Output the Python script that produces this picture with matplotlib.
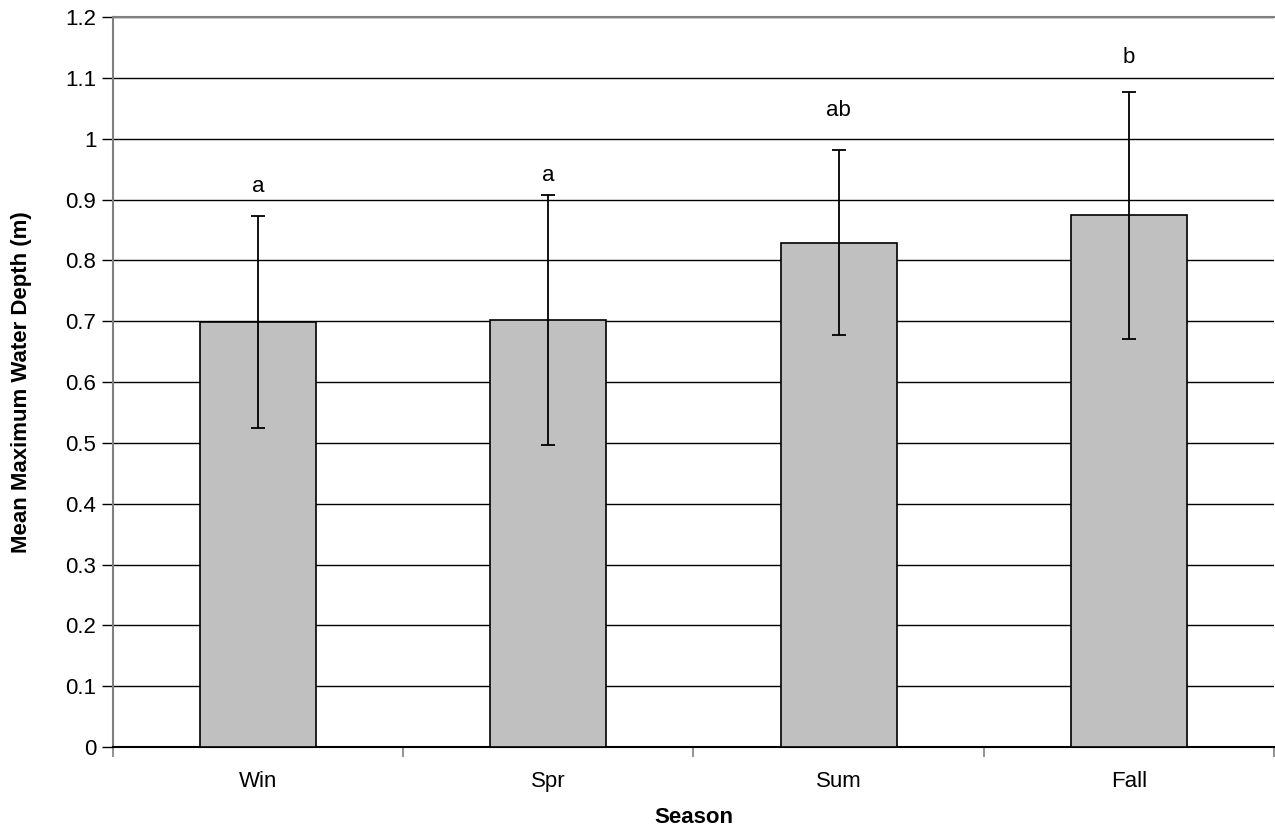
import matplotlib
matplotlib.use('Agg')
import matplotlib.pyplot as plt
import numpy as np

plt.rcParams['font.family'] = ['Liberation Sans', 'DejaVu Sans']

# Data
seasons = ['Win', 'Spr', 'Sum', 'Fall']
mean_depth = [0.699, 0.702, 0.829, 0.874]
err_depth = [0.174, 0.205, 0.152, 0.203]
letters = ['a', 'a', 'ab', 'b']
letter_y = [0.921, 0.940, 1.047, 1.133]

fig = plt.figure(figsize=(12.75, 8.35), dpi=100)
ax = fig.add_axes([0.0886, 0.1054, 0.9106, 0.8742])

x = np.arange(len(seasons))
ax.bar(x, mean_depth, width=0.4, color='#c0c0c0', edgecolor='black', linewidth=1.2, zorder=3)
ax.errorbar(x, mean_depth, yerr=err_depth, fmt='none', ecolor='black',
            elinewidth=1.3, capsize=5, capthick=1.3, zorder=4)

for xi, lab, ly in zip(x, letters, letter_y):
    ax.text(xi, ly, lab, ha='center', va='center', fontsize=16)

ax.set_xlim(-0.5, len(seasons) - 0.5)
ax.set_ylim(0, 1.2)
ax.set_yticks(np.arange(0, 1.21, 0.1))
ax.set_yticklabels(['0', '0.1', '0.2', '0.3', '0.4', '0.5', '0.6', '0.7', '0.8', '0.9', '1', '1.1', '1.2'])
ax.yaxis.grid(True, color='black', linewidth=1.0, zorder=0)
ax.set_axisbelow(True)

# category ticks sit between bars, labels centred under bars
ax.set_xticks(np.arange(-0.5, len(seasons), 1.0))
ax.set_xticklabels([])
ax.set_xticks(x, minor=True)
ax.set_xticklabels(seasons, minor=True)
ax.tick_params(axis='x', which='minor', length=0, pad=17, labelsize=16)
ax.tick_params(axis='x', which='major', length=7, color='#808080', width=1.2)
ax.tick_params(axis='y', length=8, width=1.0, labelsize=16, pad=4)

ax.spines['left'].set_color('#808080')
ax.spines['left'].set_linewidth(1.5)
ax.spines['top'].set_color('#808080')
ax.spines['top'].set_linewidth(1.5)
ax.spines['right'].set_visible(False)
ax.spines['bottom'].set_color('black')
ax.spines['bottom'].set_linewidth(1.5)

ax.set_xlabel('Season', fontsize=16, fontweight='bold', labelpad=11)
ax.set_ylabel('Mean Maximum Water Depth (m)', fontsize=16, fontweight='bold', labelpad=24)

plt.savefig('out.png', dpi=100)
